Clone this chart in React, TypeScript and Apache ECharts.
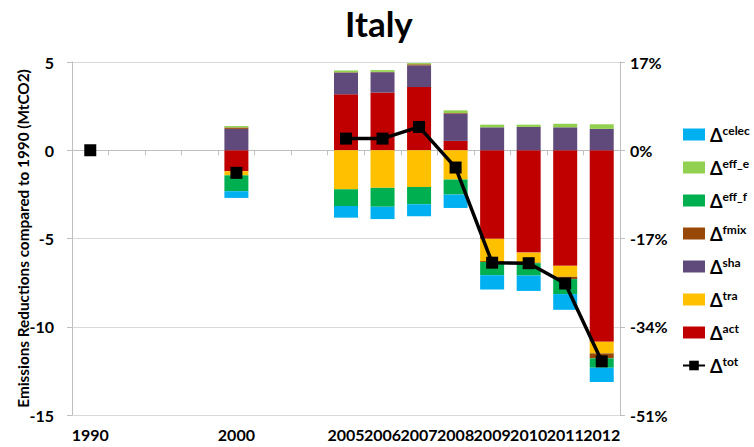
import React, { useEffect, useRef } from "react";
import * as echarts from "echarts";

const categories = ["1990", "", "", "", "2000", "", "", "2005", "2006", "2007", "2008", "2009", "2010", "2011", "2012"];
const N = null;
const act = [N, N, N, N, -1.19, N, N, 3.17, 3.27, 3.58, 0.53, -5.02, -5.8, -6.55, -10.85];
const tra = [N, N, N, N, -0.23, N, N, -2.21, -2.13, -2.08, -1.66, -1.26, -0.57, -0.62, -0.66];
const sha = [N, N, N, N, 1.21, N, N, 1.23, 1.15, 1.23, 1.55, 1.3, 1.32, 1.3, 1.21];
const fmix = [N, N, N, N, 0.08, N, N, 0.02, 0.02, 0.06, 0.03, -0.05, -0.03, -0.13, -0.28];
const effF = [N, N, N, N, -0.9, N, N, -0.95, -1.07, -0.98, -0.85, -0.75, -0.7, -0.85, -0.53];
const effE = [N, N, N, N, 0.08, N, N, 0.1, 0.1, 0.07, 0.15, 0.15, 0.13, 0.2, 0.26];
const celec = [N, N, N, N, -0.38, N, N, -0.66, -0.7, -0.68, -0.76, -0.81, -0.87, -0.89, -0.81];
const tot = [0, N, N, N, -1.28, N, N, 0.66, 0.66, 1.32, -0.98, -6.37, -6.4, -7.55, -11.96];

const leftTicks = [-15, -10, -5, 0, 5];
const rightTicks = [-51, -34, -17, 0, 17];

const FONT = "Lato, 'Open Sans', sans-serif";

export default function App() {
  const ref = useRef<HTMLDivElement>(null);
  useEffect(() => {
    const chart = echarts.init(ref.current!, null, { renderer: "svg" });
    const bar = (name: string, data: any[], color: string) => ({
      name,
      type: "bar",
      stack: "s",
      data,
      barWidth: 24,
      itemStyle: { color },
      xAxisIndex: 0,
      yAxisIndex: 0,
    });
    const legendNames = ["celec", "eff_e", "eff_f", "fmix", "sha", "tra", "act", "tot"];
    chart.setOption({
      animation: false,
      backgroundColor: "#fff",
      title: {
        text: "Italy",
        left: 340,
        top: 0,
        textStyle: { fontSize: 35, fontWeight: "bold", fontFamily: FONT, color: "#000" },
      },
      legend: {
        orient: "vertical",
        left: 677,
        top: 119,
        itemWidth: 22,
        itemHeight: 12,
        itemGap: 13,
        data: legendNames.map((n) => (n === "tot" ? { name: n } : { name: n, icon: "rect" })),
        formatter: (name: string) => `{d|Δ}{s|${name}}`,
        textStyle: {
          fontFamily: FONT,
          color: "#000",
          rich: {
            d: { fontSize: 18, fontWeight: "bold", fontFamily: FONT, color: "#000", lineHeight: 21 },
            s: { fontSize: 12, fontWeight: "bold", fontFamily: FONT, color: "#000", verticalAlign: "top", lineHeight: 21, padding: [0, 0, 8, 0] },
          },
        },
      },
      grid: { left: 72, right: 134, top: 62, bottom: 32, outerBoundsMode: "none" },
      xAxis: [
        {
          type: "category",
          data: categories,
          position: "bottom",
          axisLine: { show: false, onZero: false },
          axisTick: { show: false },
          axisLabel: { interval: 0, fontSize: 16, fontWeight: "bold", fontFamily: FONT, color: "#000", margin: 11 },
        },
        {
          type: "category",
          data: categories,
          position: "bottom",
          axisLine: { show: true, onZero: true, onZeroAxisIndex: 0, lineStyle: { color: "#BFBFBF" } },
          axisTick: { show: true, length: 5, lineStyle: { color: "#BFBFBF" } },
          axisLabel: { show: false },
        },
      ],
      yAxis: [
        {
          type: "value",
          min: leftTicks[0],
          max: leftTicks[leftTicks.length - 1],
          interval: 5,
          name: "Emissions Reductions compared to 1990 (MtCO2)",
          nameLocation: "middle",
          nameGap: 42,
          nameMoveOverlap: false,
          nameTextStyle: { fontSize: 15.3, fontWeight: "bold", fontFamily: FONT, color: "#000" },
          axisLine: { show: true, lineStyle: { color: "#BFBFBF" } },
          axisTick: { show: true, length: 5, lineStyle: { color: "#BFBFBF" } },
          splitLine: { show: true, lineStyle: { color: "#D9D9D9" } },
          axisLabel: { fontSize: 16, fontWeight: "bold", fontFamily: FONT, color: "#000", margin: 18 },
        },
        {
          type: "value",
          min: rightTicks[0],
          max: rightTicks[rightTicks.length - 1],
          interval: 17,
          position: "right",
          axisLine: { show: true, lineStyle: { color: "#BFBFBF" } },
          axisTick: { show: true, length: 5, lineStyle: { color: "#BFBFBF" } },
          splitLine: { show: false },
          axisLabel: { formatter: "{value}%", fontSize: 16, fontWeight: "bold", fontFamily: FONT, color: "#000", margin: 10 },
        },
      ],
      series: [
        bar("act", act, "#C00000"),
        bar("tra", tra, "#FFC000"),
        bar("sha", sha, "#604A7B"),
        bar("fmix", fmix, "#984807"),
        bar("eff_f", effF, "#00B050"),
        bar("eff_e", effE, "#92D050"),
        bar("celec", celec, "#00B0F0"),
        {
          name: "tot",
          type: "line",
          data: tot,
          xAxisIndex: 0,
          yAxisIndex: 0,
          connectNulls: false,
          symbol: "rect",
          symbolSize: 12,
          z: 10,
          lineStyle: { color: "#000", width: 3.5 },
          itemStyle: { color: "#000" },
        },
      ],
    });
    return () => chart.dispose();
  }, []);
  return <div ref={ref} style={{ width: 754, height: 447, position: "absolute", left: 0, top: 0 }} />;
}
